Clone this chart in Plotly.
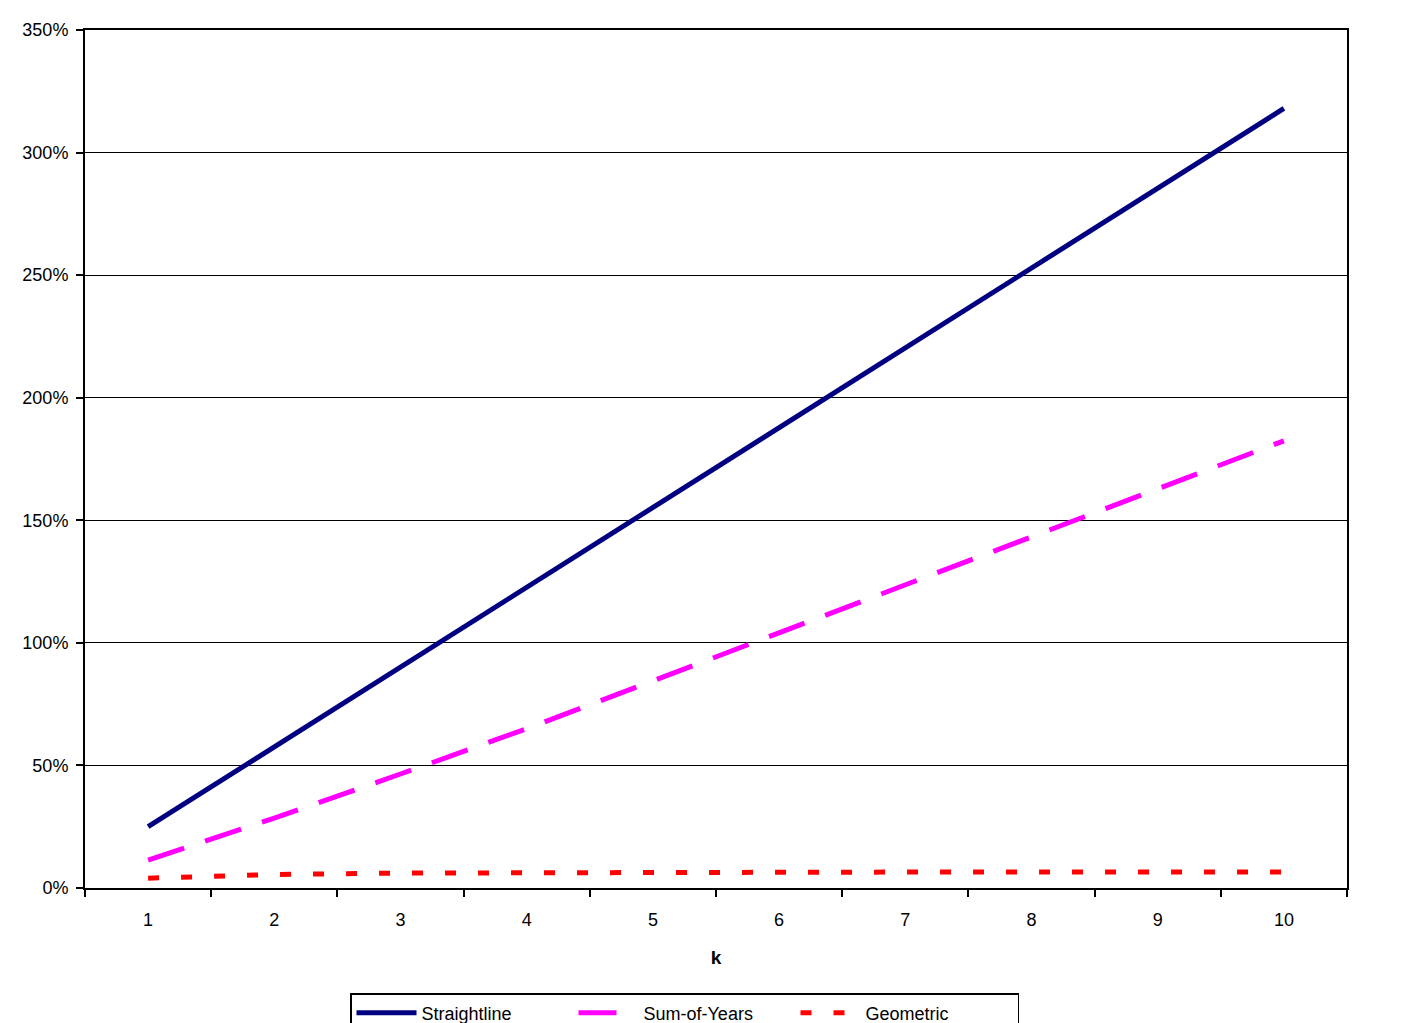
import plotly.graph_objects as go

k_labels = ["1", "2", "3", "4", "5", "6", "7", "8", "9", "10"]
straightline = [25.0, 57.6, 90.1, 122.7, 155.2, 187.8, 220.3, 252.9, 285.4, 318.0]
sum_of_years = [11.4, 28.5, 46.5, 65.0, 84.5, 104.0, 123.5, 143.0, 162.8, 182.4]
geometric = [4.0, 5.5, 6.1, 6.3, 6.4, 6.5, 6.5, 6.5, 6.5, 6.5]
y_ticks = [0, 50, 100, 150, 200, 250, 300, 350]
y_tick_labels = [f"{v}%" for v in y_ticks]

FONT = "Liberation Sans, Arial, sans-serif"

fig = go.Figure()
fig.add_trace(go.Scatter(x=k_labels, y=straightline, mode="lines", name="Straightline",
                         line=dict(color="#000080", width=5)))
fig.add_trace(go.Scatter(x=k_labels, y=sum_of_years, mode="lines", name="Sum-of-Years",
                         line=dict(color="#FF00FF", width=5, dash="38px,22px")))
fig.add_trace(go.Scatter(x=k_labels, y=geometric, mode="lines", name="Geometric",
                         line=dict(color="#FF0000", width=5, dash="11px,22px")))

fig.update_layout(
    width=1426, height=1023,
    margin=dict(l=85, r=79, t=30, b=135, autoexpand=False),
    paper_bgcolor="white", plot_bgcolor="white",
    font=dict(family=FONT, size=18, color="black"),
    showlegend=True,
    legend=dict(orientation="h", x=(350 - 85) / 1262, xanchor="left",
                y=-(993 - 888) / 858, yanchor="top",
                bordercolor="black", borderwidth=1.5, font=dict(size=18),
                itemwidth=60, entrywidth=147, entrywidthmode="pixels"),
    xaxis=dict(type="category", range=[-0.5, 9.5], tickson="boundaries",
               ticks="outside", ticklen=7, tickwidth=1.5, tickcolor="black",
               showline=True, linecolor="black", linewidth=2, mirror=True,
               showgrid=False, ticklabelstandoff=14,
               title=dict(text="<b>k</b>", font=dict(size=19), standoff=22),
               tickfont=dict(size=18)),
    yaxis=dict(range=[0, 350], tickmode="array", tickvals=y_ticks, ticktext=y_tick_labels,
               ticks="outside", ticklen=7, tickwidth=1.5, tickcolor="black",
               showline=True, linecolor="black", linewidth=2, mirror=True,
               showgrid=True, gridcolor="black", gridwidth=1.2, zeroline=False,
               ticklabelstandoff=4, tickfont=dict(size=18)),
)
fig.write_html("out.html")
